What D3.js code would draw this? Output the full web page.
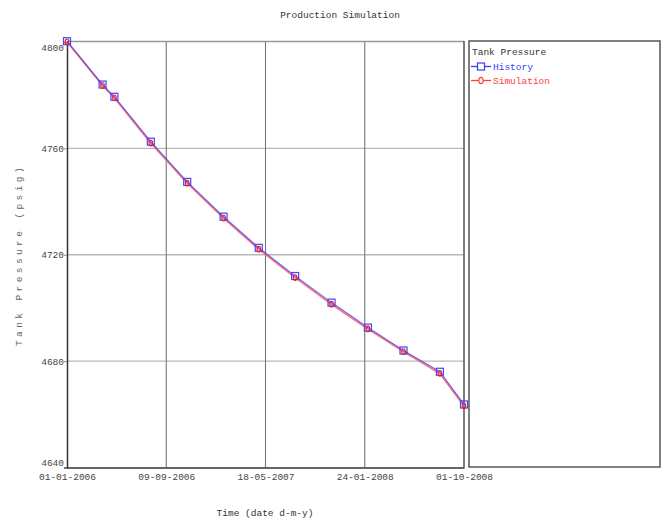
<!DOCTYPE html>
<html>
<head>
<meta charset="utf-8">
<script src="https://cdn.jsdelivr.net/npm/d3@7"></script>
<style>
  body { margin: 0; background: #fff; }
  svg text { font-family: "Liberation Mono", "DejaVu Sans Mono", monospace; }
</style>
</head>
<body>
<svg id="chart" width="666" height="520"></svg>
<script>
// Sample dates (d-m-y) and tank pressure in psig
const dates = ["01-01-2006","01-04-2006","01-05-2006","01-08-2006","01-11-2006","01-02-2007",
               "01-05-2007","01-08-2007","01-11-2007","01-02-2008","01-05-2008","01-08-2008","01-10-2008"];
const history    = [4800.3, 4784.0, 4779.4, 4762.5, 4747.4, 4734.3, 4722.6, 4712.0, 4702.0, 4692.6, 4684.0, 4676.0, 4663.7];
const simulation = [4800.1, 4783.6, 4779.0, 4762.0, 4746.9, 4733.8, 4722.1, 4711.4, 4701.4, 4692.1, 4683.6, 4675.4, 4663.1];
const yTicks = [4640, 4680, 4720, 4760, 4800];
const xTickLabels = ["01-01-2006","09-09-2006","18-05-2007","24-01-2008","01-10-2008"];

const parse = d3.timeParse("%d-%m-%Y");
const fmt = d3.timeFormat("%d-%m-%Y");
const histData = dates.map((d, i) => ({ t: parse(d), v: history[i] }));
const simData  = dates.map((d, i) => ({ t: parse(d), v: simulation[i] }));

const svg = d3.select("#chart");
const L = 67, R = 464, T = 42, B = 467.5;

const x = d3.scaleTime().domain([parse("01-01-2006"), parse("01-10-2008")]).range([L, R]);
const y = d3.scaleLinear().domain([4640, 4800]).range([B, T]);
const xTickDates = xTickLabels.map(parse);

// title
svg.append("text").attr("x", 340).attr("y", 18).attr("text-anchor", "middle")
  .attr("font-size", 9.5).attr("fill", "#333").text("Production Simulation");

// grid
svg.append("g").selectAll("line").data(yTicks.slice(1, -1)).join("line")
  .attr("x1", L).attr("x2", R).attr("y1", d => y(d)).attr("y2", d => y(d))
  .attr("stroke", "#b8b8b8").attr("stroke-width", 1.3);
svg.append("g").selectAll("line").data(xTickDates.slice(1, -1)).join("line")
  .attr("x1", d => x(d)).attr("x2", d => x(d)).attr("y1", T).attr("y2", B)
  .attr("stroke", "#777").attr("stroke-width", 1.1);

// plot frame
svg.append("line").attr("x1", L).attr("x2", R).attr("y1", T - 0.5).attr("y2", T - 0.5)
  .attr("stroke", "#999").attr("stroke-width", 1.5);
svg.append("line").attr("x1", R).attr("x2", R).attr("y1", T - 1).attr("y2", B)
  .attr("stroke", "#555").attr("stroke-width", 1.5);

// axes
const yAxis = d3.axisLeft(y).tickValues(yTicks).tickSize(3).tickFormat(d3.format("d"));
const gy = svg.append("g").attr("transform", `translate(${L},0)`).call(yAxis);
gy.select(".domain").attr("stroke", "#333").attr("stroke-width", 1.5);
gy.selectAll(".tick line").attr("stroke", "#888");
gy.selectAll(".tick text").attr("font-size", 9.5).attr("fill", "#444").attr("x", -3)
  .attr("dy", d => d === 4800 ? "0.85em" : d === 4640 ? "-0.25em" : "0.32em");

const xAxis = d3.axisBottom(x).tickValues(xTickDates).tickSize(0).tickFormat(fmt);
const gx = svg.append("g").attr("transform", `translate(0,${B})`).call(xAxis);
gx.select(".domain").attr("stroke", "#333").attr("stroke-width", 1.5);
gx.selectAll(".tick text").attr("font-size", 9.5).attr("fill", "#444").attr("y", 6);

// axis titles
svg.append("text").attr("x", 265).attr("y", 516).attr("text-anchor", "middle")
  .attr("font-size", 9.5).attr("fill", "#333").text("Time (date d-m-y)");
svg.append("text").attr("transform", "translate(22,255) rotate(-90)")
  .attr("text-anchor", "middle").attr("font-size", 9.5).attr("fill", "#666")
  .attr("letter-spacing", 3.4).text("Tank Pressure (psig)");

// series
const line = d3.line().x(d => x(d.t)).y(d => y(d.v));
svg.append("path").datum(simData).attr("d", line).attr("fill", "none")
  .attr("stroke", "#ff6060").attr("stroke-width", 1.8).attr("stroke-opacity", 0.85);
svg.append("path").datum(histData).attr("d", line).attr("fill", "none")
  .attr("stroke", "#3030ff").attr("stroke-width", 1.2).attr("stroke-opacity", 0.7);

svg.append("g").selectAll("rect").data(histData).join("rect")
  .attr("x", d => x(d.t) - 3.5).attr("y", d => y(d.v) - 3.5).attr("width", 7).attr("height", 7)
  .attr("fill", "none").attr("stroke", "#4444ff").attr("stroke-width", 1.2);
svg.append("g").selectAll("ellipse").data(simData).join("ellipse")
  .attr("cx", d => x(d.t)).attr("cy", d => y(d.v)).attr("rx", 1.8).attr("ry", 2.8)
  .attr("fill", "none").attr("stroke", "#e82020").attr("stroke-width", 1.1);

// legend
const lg = svg.append("g");
lg.append("rect").attr("x", 469).attr("y", 41).attr("width", 191).attr("height", 426)
  .attr("fill", "#fff").attr("stroke", "#555").attr("stroke-width", 1.5);
lg.append("text").attr("x", 472).attr("y", 55).attr("font-size", 9.5).attr("fill", "#333").text("Tank Pressure");
const items = [
  { name: "History", color: "#3a3aff", shape: "square" },
  { name: "Simulation", color: "#ff4040", shape: "ellipse" }
];
items.forEach((it, i) => {
  const yy = 66.5 + i * 14;
  lg.append("line").attr("x1", 471).attr("x2", 491).attr("y1", yy).attr("y2", yy)
    .attr("stroke", it.color).attr("stroke-width", 1.3);
  if (it.shape === "square") {
    lg.append("rect").attr("x", 477.5).attr("y", yy - 3.5).attr("width", 7).attr("height", 7)
      .attr("fill", "#fff").attr("stroke", it.color).attr("stroke-width", 1.2);
  } else {
    lg.append("ellipse").attr("cx", 481).attr("cy", yy).attr("rx", 2.2).attr("ry", 3.2)
      .attr("fill", "#fff").attr("stroke", it.color).attr("stroke-width", 1.2);
  }
  lg.append("text").attr("x", 493).attr("y", yy + 3.3).attr("font-size", 9.5)
    .attr("fill", it.color).text(it.name);
});
</script>
</body>
</html>
